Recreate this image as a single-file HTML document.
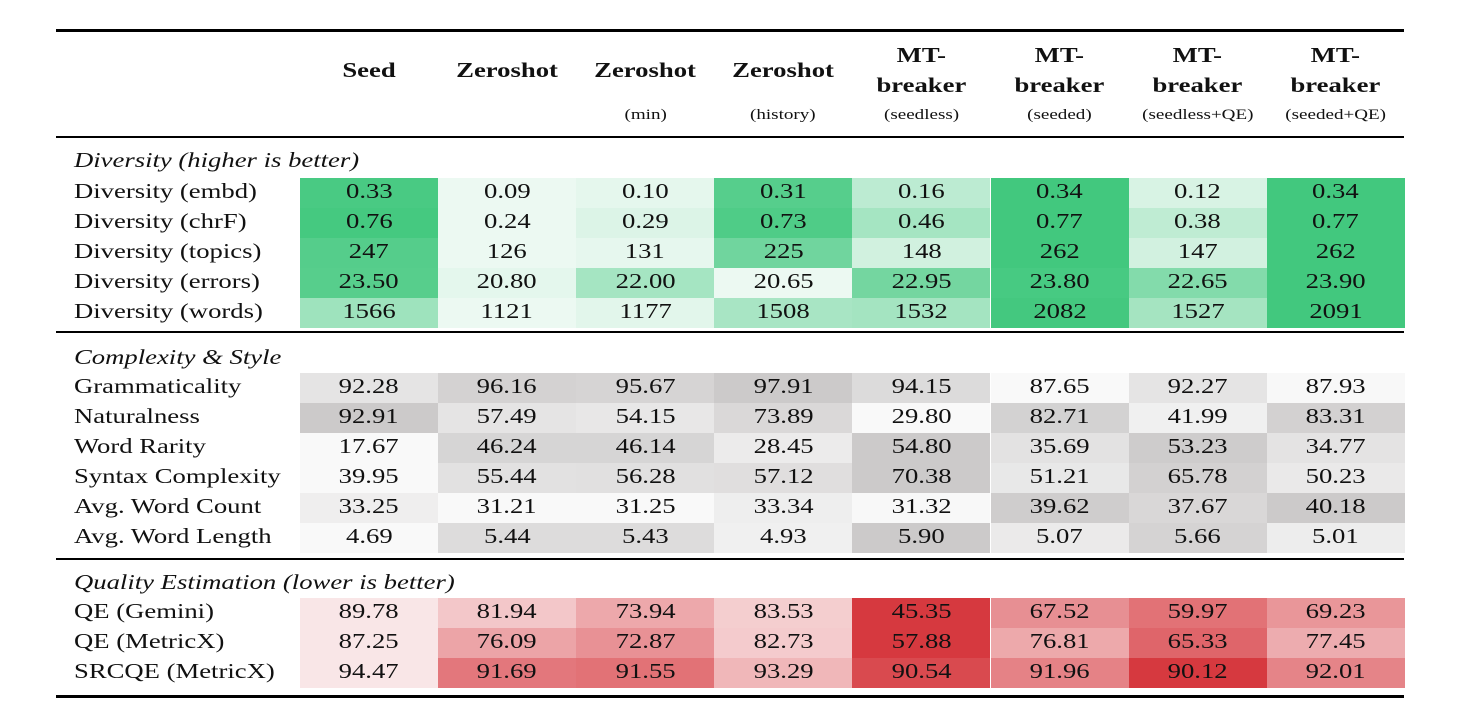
<!DOCTYPE html>
<html><head><meta charset="utf-8"><style>
body{margin:0;width:1460px;height:725px;background:#fff;position:relative;overflow:hidden;font-family:"Liberation Serif",serif;color:#111}
.rule{position:absolute;left:56px;width:1348px;background:#000}
.h{position:absolute;text-align:center;font-weight:bold;font-size:21px;line-height:30px;width:138px}
.sub{position:absolute;text-align:center;font-size:15px;width:138px}
.cell{position:absolute;height:30px;line-height:26px;text-align:center;font-size:21px;width:138px}
.lab{position:absolute;left:74px;font-size:21px;line-height:26px;height:30px;white-space:nowrap}
.sec{position:absolute;left:74px;font-size:21px;font-style:italic;line-height:30px;white-space:nowrap}
.s{display:inline-block;transform:scaleX(1.27);transform-origin:center}
.lab .s,.sec .s{transform-origin:left center}
</style></head><body>
<div class="rule" style="top:29px;height:3px"></div>
<div class="rule" style="top:136px;height:2px"></div>
<div class="rule" style="top:331px;height:2px"></div>
<div class="rule" style="top:558px;height:2px"></div>
<div class="rule" style="top:695px;height:3px"></div>
<div id="root"></div>
<script>
const columns=["Seed","Zeroshot","Zeroshot","Zeroshot","MT-breaker","MT-breaker","MT-breaker","MT-breaker"];
const subtitles=["","","(min)","(history)","(seedless)","(seeded)","(seedless+QE)","(seeded+QE)"];
const secTitles=["Diversity (higher is better)","Complexity & Style","Quality Estimation (lower is better)"];
const divLabels=["Diversity (embd)","Diversity (chrF)","Diversity (topics)","Diversity (errors)","Diversity (words)"];
const divValues=[["0.33","0.09","0.10","0.31","0.16","0.34","0.12","0.34"],
["0.76","0.24","0.29","0.73","0.46","0.77","0.38","0.77"],
["247","126","131","225","148","262","147","262"],
["23.50","20.80","22.00","20.65","22.95","23.80","22.65","23.90"],
["1566","1121","1177","1508","1532","2082","1527","2091"]];
const cxLabels=["Grammaticality","Naturalness","Word Rarity","Syntax Complexity","Avg. Word Count","Avg. Word Length"];
const cxValues=[["92.28","96.16","95.67","97.91","94.15","87.65","92.27","87.93"],
["92.91","57.49","54.15","73.89","29.80","82.71","41.99","83.31"],
["17.67","46.24","46.14","28.45","54.80","35.69","53.23","34.77"],
["39.95","55.44","56.28","57.12","70.38","51.21","65.78","50.23"],
["33.25","31.21","31.25","33.34","31.32","39.62","37.67","40.18"],
["4.69","5.44","5.43","4.93","5.90","5.07","5.66","5.01"]];
const qeLabels=["QE (Gemini)","QE (MetricX)","SRCQE (MetricX)"];
const qeValues=[["89.78","81.94","73.94","83.53","45.35","67.52","59.97","69.23"],
["87.25","76.09","72.87","82.73","57.88","76.81","65.33","77.45"],
["94.47","91.69","91.55","93.29","90.54","91.96","90.12","92.01"]];

const root=document.getElementById('root');
const colX=i=>300+i*138.1;
function mix(a,b,t){return 'rgb('+a.map((v,k)=>Math.round(v+(b[k]-v)*t)).join(',')+')';}
function wrap(el,txt){const s=document.createElement('span');s.className='s';s.innerHTML=txt;el.appendChild(s);}
columns.forEach((c,i)=>{
  const mt=c.startsWith("MT");
  const d=document.createElement('div');d.className='h';
  
  
  d.style.left=colX(i)+'px';d.style.top=(mt?40:55)+'px';
  wrap(d,mt?'MT-<br>breaker':c);root.appendChild(d);
  if(subtitles[i]){const s=document.createElement('div');s.className='sub';
  
  
  s.style.left=colX(i)+'px';s.style.top='107px';wrap(s,subtitles[i]);root.appendChild(s);}
});
function section(title,titleY,rowY,labels,vals,light,dark,higherDark){
  const t=document.createElement('div');t.className='sec';
  
  
  t.style.top=titleY+'px';wrap(t,title.replace('&','&amp;'));root.appendChild(t);
  labels.forEach((lab,r)=>{
    const y=rowY+r*30;
    const l=document.createElement('div');l.className='lab';
    
    
    l.style.top=y+'px';wrap(l,lab);root.appendChild(l);
    const nums=vals[r].map(Number);const mn=Math.min(...nums),mx=Math.max(...nums);
    vals[r].forEach((v,i)=>{
      let f=(Number(v)-mn)/(mx-mn||1);if(!higherDark)f=1-f;
      const c=document.createElement('div');c.className='cell';
      
      
      c.style.left=colX(i)+'px';c.style.top=y+'px';
      c.style.background=mix(light,dark,f);wrap(c,v);root.appendChild(c);
    });
  });
}
section(secTitles[0],145,178,divLabels,divValues,[236,249,242],[66,200,126],true);
section(secTitles[1],342,373,cxLabels,cxValues,[249,249,249],[204,202,202],true);
section(secTitles[2],567,598,qeLabels,qeValues,[249,230,231],[214,57,63],false);
</script>
</body></html>
